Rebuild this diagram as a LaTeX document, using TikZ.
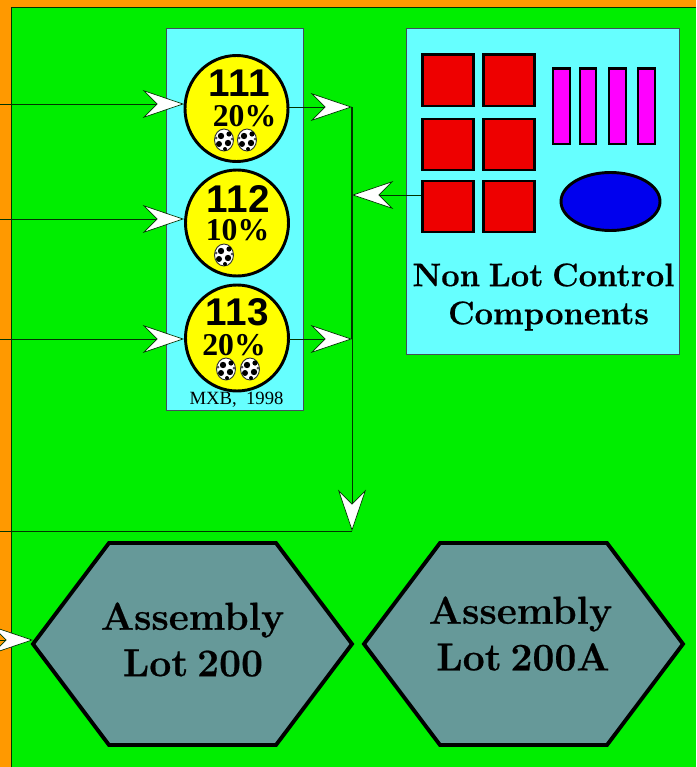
\documentclass[tikz,border=0pt]{standalone}
\usepackage{fontspec}
\setmainfont{Latin Modern Roman}
\newfontfamily\sansb{Liberation Sans}[BoldFont={* Bold},LetterSpace=2]
\newfontfamily\timesf{Liberation Serif}[BoldFont={* Bold}]
\newfontfamily\heavy{Latin Modern Roman}[BoldFeatures={FakeBold=0.5}]
\usetikzlibrary{arrows.meta,shapes.geometric}
\definecolor{bggreen}{HTML}{00EE00}
\definecolor{frameorange}{HTML}{FF9900}
\definecolor{panelcyan}{HTML}{66FFFF}
\definecolor{hexgray}{HTML}{669999}
\definecolor{partred}{HTML}{EE0000}
\definecolor{partblue}{HTML}{0000EE}
\definecolor{partmag}{HTML}{FF00FF}
\definecolor{lotyellow}{HTML}{FFFF00}
\tikzset{
  x=0.75pt,y=-0.75pt,
  panel/.style={draw=black!75!cyan,fill=panelcyan,line width=0.6pt},
  lotcircle/.style={ellipse,draw=black,fill=lotyellow,line width=2.2pt,minimum width=103*0.75pt,minimum height=106*0.75pt,inner sep=0pt},
  partbox/.style={draw=black,fill=partred,line width=2pt,anchor=north west,minimum width=51*0.75pt,minimum height=51*0.75pt,inner sep=0pt},
  pin/.style={draw=black,fill=partmag,line width=1.7pt,anchor=north west,minimum width=16.5*0.75pt,minimum height=75*0.75pt,inner sep=0pt},
  hexa/.style={draw=black,fill=hexgray,line width=2.9pt,line join=miter},
  conn/.style={draw=black!80!green,line width=0.75pt},
  arr/.style={conn,-{Stealth[length=31pt,width=21pt,inset=10.5pt,fill=white,line width=0.5pt]}},
  num/.style={font=\sansb\bfseries\fontsize{29}{29}\selectfont,inner sep=0pt},
  pct/.style={font=\timesf\bfseries\fontsize{23.8}{24}\selectfont,inner sep=0pt},
  big/.style={font=\heavy\bfseries\fontsize{24.5}{30}\selectfont,inner sep=0pt,align=center},
  bigger/.style={font=\heavy\bfseries\fontsize{29.3}{33}\selectfont,inner sep=0pt,align=center},
  ball/.pic={
    \fill[white,draw=black!80,line width=0.7pt] (0,0) ellipse [x radius=9.5,y radius=11];
    \fill[black] (-3,-4) circle (3.2);
    \fill[black] (5,-6) circle (2.6);
    \fill[black] (4,3) circle (3.2);
    \fill[black] (-5,4) circle (3);
    \fill[black] (1,9) circle (2);
    \fill[black!70] (8,-1) circle (1.5);
    \fill[black!70] (-8,-2) circle (1.5);
  }
}
\newcommand\gapS{\hspace{6.5pt}}
\newcommand\gapL{\hspace{6.5pt}}
\begin{document}
\begin{tikzpicture}
\useasboundingbox (0,0) rectangle (696,767);
\begin{scope}
\clip (0,0) rectangle (696,767);
\fill[frameorange] (0,0) rectangle (696,767);
\fill[bggreen] (11,8) rectangle (696,767);
\coordinate (frameTL) at (11,8);
\coordinate (frameTR) at (696,8);
\coordinate (frameBL) at (11,767);
\draw[conn] (frameTR) -- (frameTL) -- (frameBL);

\node[panel,minimum width=137*0.75pt,minimum height=382*0.75pt,inner sep=0pt] (panelA) at (234.5,219) {};
\node[panel,minimum width=273*0.75pt,minimum height=326*0.75pt,inner sep=0pt] (panelB) at (542.5,191) {};

\node[lotcircle] (c111) at (236.5,108.5) {};
\node[lotcircle] (c112) at (237,223) {};
\node[lotcircle] (c113) at (237,338) {};

\node[num] (n111) at (239,83.5) {111};
\node[pct] (p111) at (244.5,116) {20\%};
\pic at (224,140) {ball};
\pic at (247,140) {ball};
\node[num] (n112) at (238,198.5) {112};
\node[pct] (p112) at (237.5,230) {10\%};
\pic at (224,255) {ball};
\node[num] (n113) at (237.5,312.5) {113};
\node[pct] (p113) at (234,345) {20\%};
\pic at (226,369) {ball};
\pic at (250,369) {ball};
\node[inner sep=0pt,font=\timesf\fontsize{14}{14}\selectfont] (mxb) at (236.5,400) {MXB,\ \ 1998};

\foreach \nm/\x/\y in {a/421/53.5,b/482/53.5,c/421/117.5,d/482/117.5,e/421/179.5,f/482/179.5}{
  \node[partbox] (r\nm) at (\x,\y) {};
}
\foreach \nm/\x in {a/552,b/578.5,c/608,d/637}{
  \node[pin] (m\nm) at (\x,67.5) {};
}
\node[ellipse,draw=black,fill=partblue,line width=2.2pt,minimum width=99*0.75pt,minimum height=58*0.75pt,inner sep=0pt] (oval) at (610.5,201.5) {};
\node[big] (nlc1) at (543.5,275) {Non\gapS Lot\gapS Control};
\node[big] (nlc2) at (548.5,316) {Components};

\coordinate (h1L) at (33,644);
\coordinate (h1R) at (352,644);
\draw[hexa] (h1L) -- (109,543) -- (276,543) -- (h1R) -- (276,745) -- (109,745) -- cycle;
\coordinate (h2L) at (364,644);
\coordinate (h2R) at (683,644);
\draw[hexa] (h2L) -- (440,543) -- (607,543) -- (h2R) -- (607,745) -- (440,745) -- cycle;
\node[bigger] (t1) at (192.5,620) {Assembly};
\node[bigger] (t1b) at (193,663) {Lot\gapL 200};
\node[bigger] (t2) at (520.5,614) {Assembly};
\node[bigger] (t2b) at (523,657) {Lot\gapL 200A};

\coordinate (in1) at (-5,104);
\coordinate (in2) at (-5,219);
\coordinate (in3) at (-5,339);
\coordinate (in4) at (-5,531);
\coordinate (in5) at (-5,640);
\coordinate (joinA) at (352,107);
\coordinate (joinB) at (352,195);
\coordinate (joinC) at (352,339);
\coordinate (joinD) at (352,531);
\coordinate (c111in) at (184,104);
\coordinate (c112in) at (184,219);
\coordinate (c113in) at (184,339);
\coordinate (c111out) at (289,107);
\coordinate (c113out) at (289,339);
\coordinate (reOut) at (421,195);
\coordinate (h1in) at (33,640);
\draw[arr] (in1) -- (c111in);
\draw[arr] (in2) -- (c112in);
\draw[arr] (in3) -- (c113in);
\draw[arr] (c111out) -- (joinA);
\draw[arr] (c113out) -- (joinC);
\draw[arr] (reOut) -- (joinB);
\draw[conn,line width=1pt] (joinA) -- (joinC);
\draw[arr] (joinC) -- (joinD);
\draw[conn] (in4) -- (joinD);
\draw[arr] (in5) -- (h1in);
\end{scope}
\end{tikzpicture}
\end{document}
